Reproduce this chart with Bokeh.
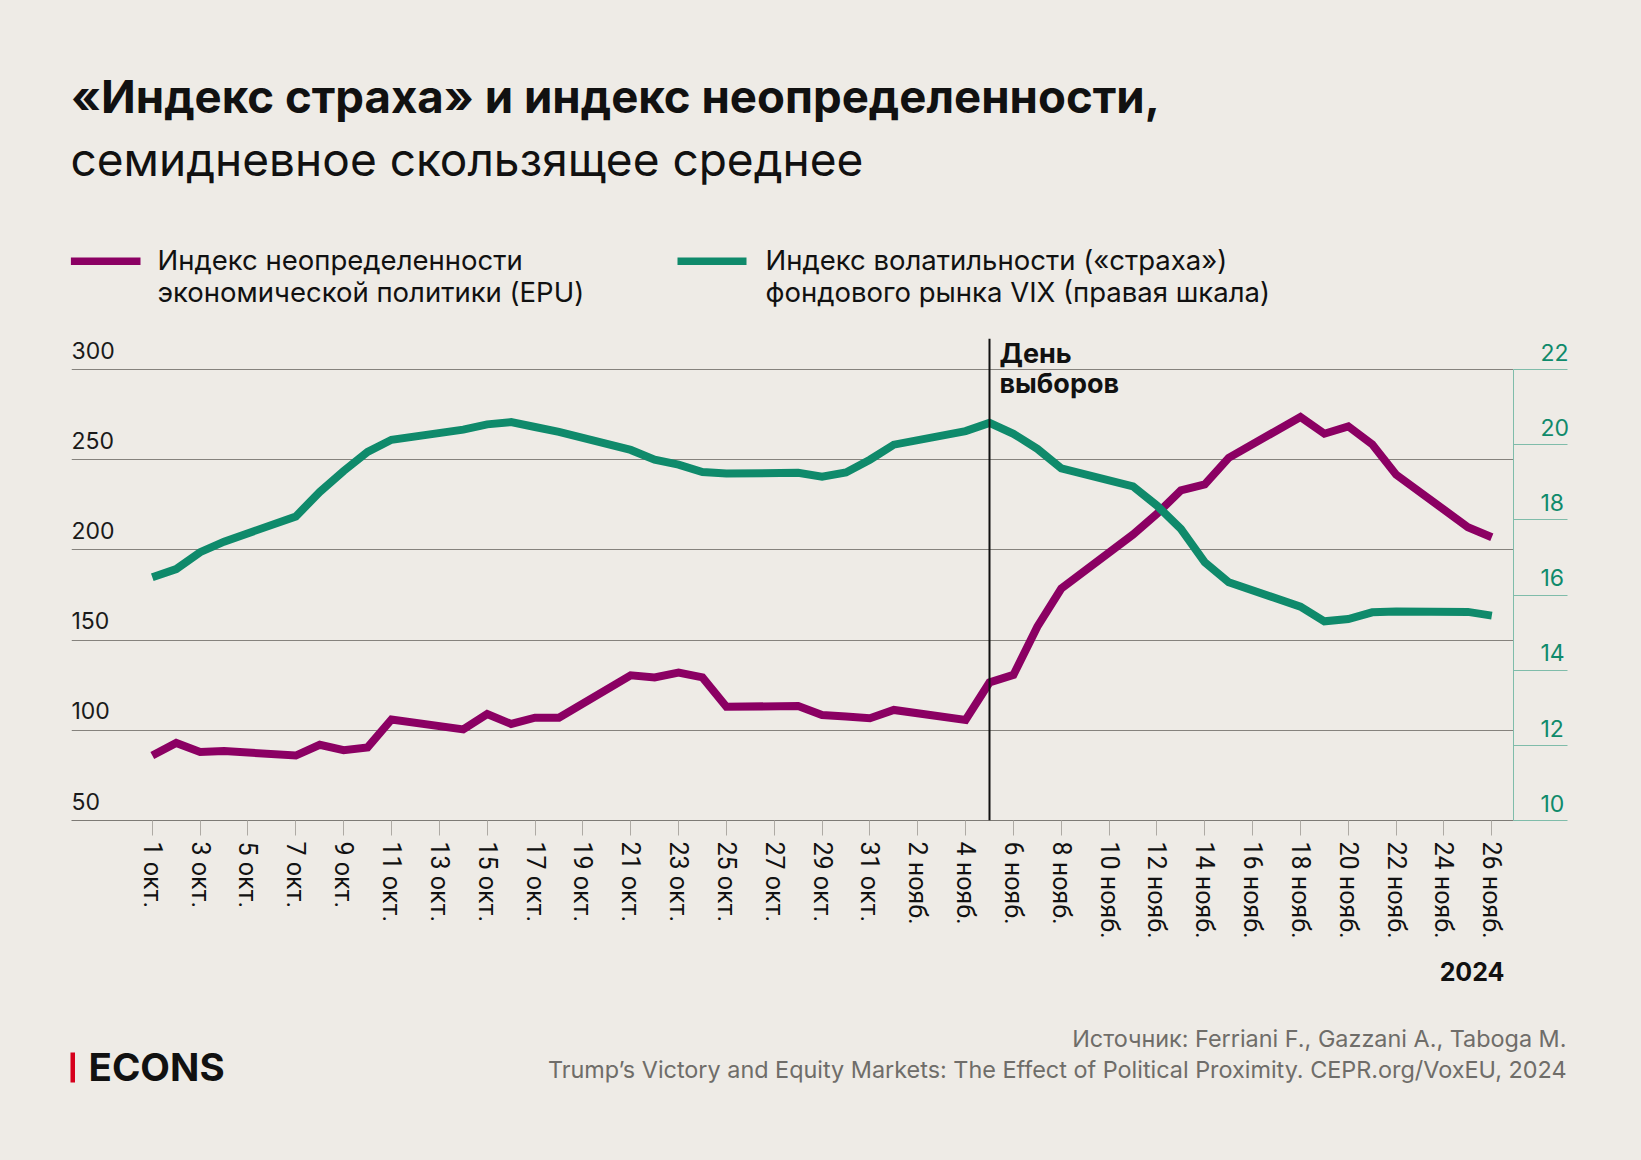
import pandas as pd
from bokeh.plotting import figure
from bokeh.layouts import column
from bokeh.models import (Range1d, LinearAxis, FixedTicker, Span, LabelSet,
                          ColumnDataSource, BoxAnnotation, Grid)
from bokeh.embed import file_html
from bokeh.resources import INLINE
from bokeh.core.properties import value

# ---------------- data ----------------
DATES = [
    "2024-10-01", "2024-10-02", "2024-10-03", "2024-10-04",
    "2024-10-07", "2024-10-08", "2024-10-09", "2024-10-10", "2024-10-11",
    "2024-10-14", "2024-10-15", "2024-10-16", "2024-10-17", "2024-10-18",
    "2024-10-21", "2024-10-22", "2024-10-23", "2024-10-24", "2024-10-25",
    "2024-10-28", "2024-10-29", "2024-10-30", "2024-10-31", "2024-11-01",
    "2024-11-04", "2024-11-05", "2024-11-06", "2024-11-07", "2024-11-08",
    "2024-11-11", "2024-11-12", "2024-11-13", "2024-11-14", "2024-11-15",
    "2024-11-18", "2024-11-19", "2024-11-20", "2024-11-21", "2024-11-22",
    "2024-11-25", "2024-11-26",
]
EPU = [
    86, 93, 88, 88.5,
    86, 92, 89, 90.5, 106,
    100.5, 109, 103.5, 107, 107,
    130.5, 129.3, 132, 129.3, 113,
    113.5, 108.5, 107.6, 106.7, 111.3,
    105.7, 126.5, 130.7, 157.4, 178.6,
    208.5, 220, 233, 236.3, 251,
    273.7, 264.4, 268.5, 258.5, 241.7,
    212.6, 207,
]
VIX = [
    16.47, 16.69, 17.14, 17.42,
    18.09, 18.74, 19.30, 19.81, 20.13,
    20.40, 20.54, 20.60, 20.47, 20.34,
    19.86, 19.60, 19.47, 19.27, 19.23,
    19.25, 19.15, 19.26, 19.60, 20.00,
    20.36, 20.58, 20.29, 19.89, 19.37,
    18.89, 18.38, 17.76, 16.87, 16.34,
    15.69, 15.30, 15.36, 15.54, 15.56,
    15.55, 15.45,
]
TICK_DATES = [
    "2024-10-01", "2024-10-03", "2024-10-05", "2024-10-07", "2024-10-09",
    "2024-10-11", "2024-10-13", "2024-10-15", "2024-10-17", "2024-10-19",
    "2024-10-21", "2024-10-23", "2024-10-25", "2024-10-27", "2024-10-29",
    "2024-10-31", "2024-11-02", "2024-11-04", "2024-11-06", "2024-11-08",
    "2024-11-10", "2024-11-12", "2024-11-14", "2024-11-16", "2024-11-18",
    "2024-11-20", "2024-11-22", "2024-11-24", "2024-11-26",
]
TICK_LABELS = [
    "1 окт.", "3 окт.", "5 окт.", "7 окт.", "9 окт.",
    "11 окт.", "13 окт.", "15 окт.", "17 окт.", "19 окт.",
    "21 окт.", "23 окт.", "25 окт.", "27 окт.", "29 окт.",
    "31 окт.", "2 нояб.", "4 нояб.", "6 нояб.", "8 нояб.",
    "10 нояб.", "12 нояб.", "14 нояб.", "16 нояб.", "18 нояб.",
    "20 нояб.", "22 нояб.", "24 нояб.", "26 нояб.",
]
EPU_TICKS = [50, 100, 150, 200, 250, 300]
VIX_TICKS = [10, 12, 14, 16, 18, 20, 22]
ELECTION_DATE = "2024-11-05"
ELECTION_LABEL = ["День", "выборов"]
YEAR_LABEL = "2024"
TITLE = "«Индекс страха» и индекс неопределенности,"
SUBTITLE = "семидневное скользящее среднее"
LEGEND_EPU = ["Индекс неопределенности", "экономической политики (EPU)"]
LEGEND_VIX = ["Индекс волатильности («страха»)", "фондового рынка VIX (правая шкала)"]
SOURCE = ["Источник: Ferriani F., Gazzani A., Taboga M.",
          "Trump’s Victory and Equity Markets: The Effect of Political Proximity. CEPR.org/VoxEU, 2024"]
BRAND = "ECONS"

# ---------------- style / layout ----------------
BG = "#eeebe6"
PURPLE = "#8b0063"
TEAL = "#0f8a6b"
TEAL_LIGHT = "#7fbcaa"
GRID = "#85827d"
FONT = "Inter"
TICK_FONT = "Roboto"

W, H = 1641, 1160
TOP_H = 330
MAIN_TOP, MAIN_BOT = 330, 950
FL, FR, FT, FB = 71, 1513, 338, 820   # plot frame (page px)
X0_PX, PX_PER_DAY = 151.8, 23.92
EPU_PX = 451 / 250.0
VIX_PX = 451 / 12.0

start = pd.Timestamp(DATES[0])
def day(s):
    return (pd.Timestamp(s) - start).days

x_days = [day(d) for d in DATES]
tick_days = [day(d) for d in TICK_DATES]

x_start = (FL - X0_PX) / PX_PER_DAY
x_end = (FR - X0_PX) / PX_PER_DAY
epu_hi = EPU_TICKS[0] + (FB - FT) / EPU_PX
vix_hi = VIX_TICKS[0] + (FB - FT) / VIX_PX


def blank_fig(y0, y1):
    f = figure(width=W, height=y1 - y0, output_backend="svg", toolbar_location=None,
               x_range=Range1d(0, W), y_range=Range1d(y1, y0),
               x_axis_location=None, y_axis_location=None,
               min_border_left=0, min_border_right=0,
               min_border_top=0, min_border_bottom=0, frame_align=False)
    f.background_fill_color = BG
    f.border_fill_color = BG
    f.outline_line_color = None
    for g in f.xgrid + f.ygrid:
        g.visible = False
    return f


def label(f, text, x, y, size, bold=False, color="#111111", align="left", font=FONT):
    s = ColumnDataSource(dict(x=[x], y=[y], t=[text]))
    f.add_layout(LabelSet(x="x", y="y", text="t", source=s, text_align=align,
                          text_baseline="alphabetic", text_font=value(font),
                          text_font_size=f"{size}px",
                          text_font_style="bold" if bold else "normal",
                          text_color=color))


# ---------------- header ----------------
top = blank_fig(0, TOP_H)
label(top, TITLE, 70.4, 112.5, 45.6, bold=True)
label(top, SUBTITLE, 70, 175, 46)
top.add_layout(BoxAnnotation(left=70.4, right=140, top=257, bottom=264.6,
                             fill_color=PURPLE, fill_alpha=1, line_alpha=0))
top.add_layout(BoxAnnotation(left=677, right=746, top=257, bottom=264.6,
                             fill_color=TEAL, fill_alpha=1, line_alpha=0))
label(top, LEGEND_EPU[0], 157, 269, 27.5)
label(top, LEGEND_EPU[1], 157, 301.7, 27.5)
label(top, LEGEND_VIX[0], 765, 269, 27.5)
label(top, LEGEND_VIX[1], 765, 301.7, 27.5)

# ---------------- main chart ----------------
p = figure(width=W, height=MAIN_BOT - MAIN_TOP, output_backend="svg",
           toolbar_location=None, frame_align=False,
           x_range=Range1d(x_start, x_end), y_range=Range1d(EPU_TICKS[0], epu_hi),
           y_axis_location=None,
           min_border_left=FL, min_border_right=W - FR,
           min_border_top=FT - MAIN_TOP, min_border_bottom=MAIN_BOT - FB)
p.extra_y_ranges = {"vix": Range1d(VIX_TICKS[0], vix_hi)}
p.background_fill_color = BG
p.border_fill_color = BG
p.outline_line_color = None
for g in p.xgrid + p.ygrid:
    g.visible = False
p.add_layout(Grid(dimension=1, ticker=FixedTicker(ticks=EPU_TICKS),
                  grid_line_color=GRID, grid_line_width=1), "center")

xa = p.xaxis[0]
xa.ticker = FixedTicker(ticks=tick_days)
xa.major_label_overrides = {d: t for d, t in zip(tick_days, TICK_LABELS)}
xa.major_label_orientation = "vertical"
xa.major_label_text_font = TICK_FONT
xa.major_label_text_font_size = "25px"
xa.major_label_text_color = "#111111"
xa.major_label_standoff = 6
xa.major_tick_out = 15
xa.major_tick_in = 0
xa.major_tick_line_color = "#aeaaa4"
xa.minor_tick_line_color = None
xa.axis_line_color = "#7d7a75"

ra = LinearAxis(y_range_name="vix", ticker=FixedTicker(ticks=VIX_TICKS),
                bounds=(VIX_TICKS[0], VIX_TICKS[-1]))
ra.axis_line_color = TEAL_LIGHT
ra.major_tick_line_color = TEAL_LIGHT
ra.major_tick_out = 54
ra.major_tick_in = 0
ra.minor_tick_line_color = None
ra.major_label_overrides = {v: f"{v}\n\u2009" for v in VIX_TICKS}
ra.major_label_text_font = FONT
ra.major_label_text_font_size = "23px"
ra.major_label_text_color = TEAL
ra.major_label_standoff = -27
p.add_layout(ra, "right")

src = ColumnDataSource(dict(x=x_days, epu=EPU, vix=VIX))
p.line("x", "epu", source=src, line_color=PURPLE, line_width=8, line_join="miter")
p.line("x", "vix", source=src, y_range_name="vix", line_color=TEAL, line_width=8,
       line_join="miter")

p.add_layout(Span(location=day(ELECTION_DATE), dimension="height",
                  line_color="#111111", line_width=2))

lsrc = ColumnDataSource(dict(y=EPU_TICKS, t=[str(v) for v in EPU_TICKS],
                             x=[x_start] * len(EPU_TICKS)))
p.add_layout(LabelSet(x="x", y="y", text="t", source=lsrc, y_offset=11,
                      text_align="left", text_baseline="alphabetic",
                      text_font=value(FONT), text_font_size="23px",
                      text_color="#1a1a1a"))

def px_x(px):
    return (px - X0_PX) / PX_PER_DAY

def px_y(py):
    return EPU_TICKS[0] + (FB - py) / EPU_PX

label(p, ELECTION_LABEL[0], px_x(999), px_y(362), 27, bold=True)
label(p, ELECTION_LABEL[1], px_x(999), px_y(392), 27, bold=True)

# ---------------- footer ----------------
bot = blank_fig(MAIN_BOT, H)
label(bot, YEAR_LABEL, 1504, 980, 25, bold=True, align="right")
label(bot, SOURCE[0], 1566, 1046, 23.4, color="#6f6d69", align="right")
label(bot, SOURCE[1], 1566, 1077, 23.4, color="#6f6d69", align="right")
bot.add_layout(BoxAnnotation(left=70, right=74.5, top=1052, bottom=1082,
                             fill_color="#d6001c", fill_alpha=1, line_alpha=0))
label(bot, BRAND, 88, 1080, 38.5, bold=True)

layout = column(top, p, bot, spacing=0)
html = file_html(layout, INLINE)
html = html.replace("<head>", f"<head><style>html,body{{background-color:{BG};}}</style>", 1)
open("out.html", "w").write(html)
